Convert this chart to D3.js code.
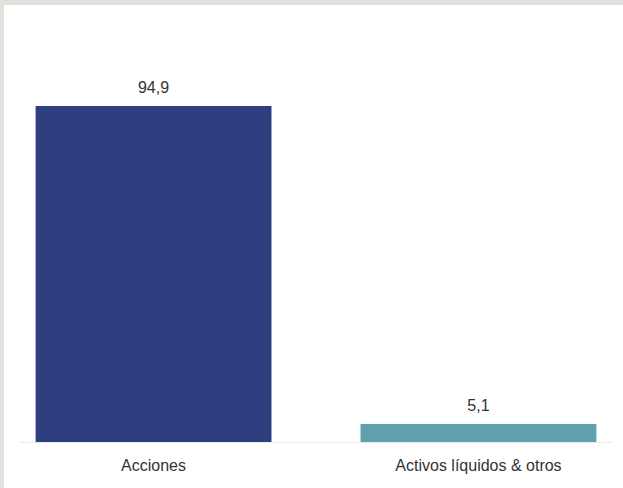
<!DOCTYPE html>
<html>
<head>
<meta charset="utf-8">
<script src="https://cdn.jsdelivr.net/npm/d3@7"></script>
<style>
  body { margin: 0; background: #e4e0dc; }
  svg { display: block; }
  text { font-family: "Liberation Sans", Arial, sans-serif; fill: #333; }
</style>
</head>
<body>
<script>
// chart data
var categories = ["Acciones", "Activos líquidos & otros"];
var values = [94.9, 5.1];
var colors = ["#2f3e7e", "#5fa2ae"];

var width = 623, height = 488;

var svg = d3.select("body").append("svg")
    .attr("width", width)
    .attr("height", height);

// white panel, beige strip top and left
svg.append("rect")
    .attr("x", 4).attr("y", 5)
    .attr("width", width - 4).attr("height", height - 5)
    .attr("fill", "#fff");

var x = d3.scaleBand()
    .domain(categories)
    .range([20, 612])
    .paddingInner(0.274)
    .paddingOuter(0.048);

var y = d3.scaleLinear()
    .domain([0, 94.9])
    .range([442, 106]);

// baseline
svg.append("line")
    .attr("x1", 20).attr("x2", 612)
    .attr("y1", y(0) + 0.5).attr("y2", y(0) + 0.5)
    .attr("stroke", "#ebebeb");

var rows = categories.map(function(c, i){
    return {cat: c, val: values[i], col: colors[i]};
});

svg.selectAll("rect.bar")
   .data(rows)
   .enter()
   .append("rect")
   .attr("class", "bar")
   .attr("x", function(d){ return x(d.cat); })
   .attr("width", x.bandwidth())
   .attr("y", function(d){ return y(d.val); })
   .attr("height", function(d){ return y(0) - y(d.val); })
   .attr("fill", function(d){ return d.col; });

svg.selectAll("text.val")
   .data(rows)
   .enter()
   .append("text")
   .attr("class", "val")
   .attr("x", function(d){ return x(d.cat) + x.bandwidth() / 2; })
   .attr("y", function(d){ return y(d.val) - 13; })
   .attr("text-anchor", "middle")
   .style("font-size", "16px")
   .text(function(d){ return d.val.toFixed(1).replace(".", ","); });

// x axis labels
var axis = svg.append("g")
    .attr("transform", "translate(0," + y(0) + ")")
    .call(d3.axisBottom(x).tickSize(0).tickPadding(18));
axis.select(".domain").remove();
axis.selectAll("text")
    .style("font-size", "16px")
    .style("font-family", "'Liberation Sans', Arial, sans-serif")
    .attr("fill", "#333");
</script>
</body>
</html>
